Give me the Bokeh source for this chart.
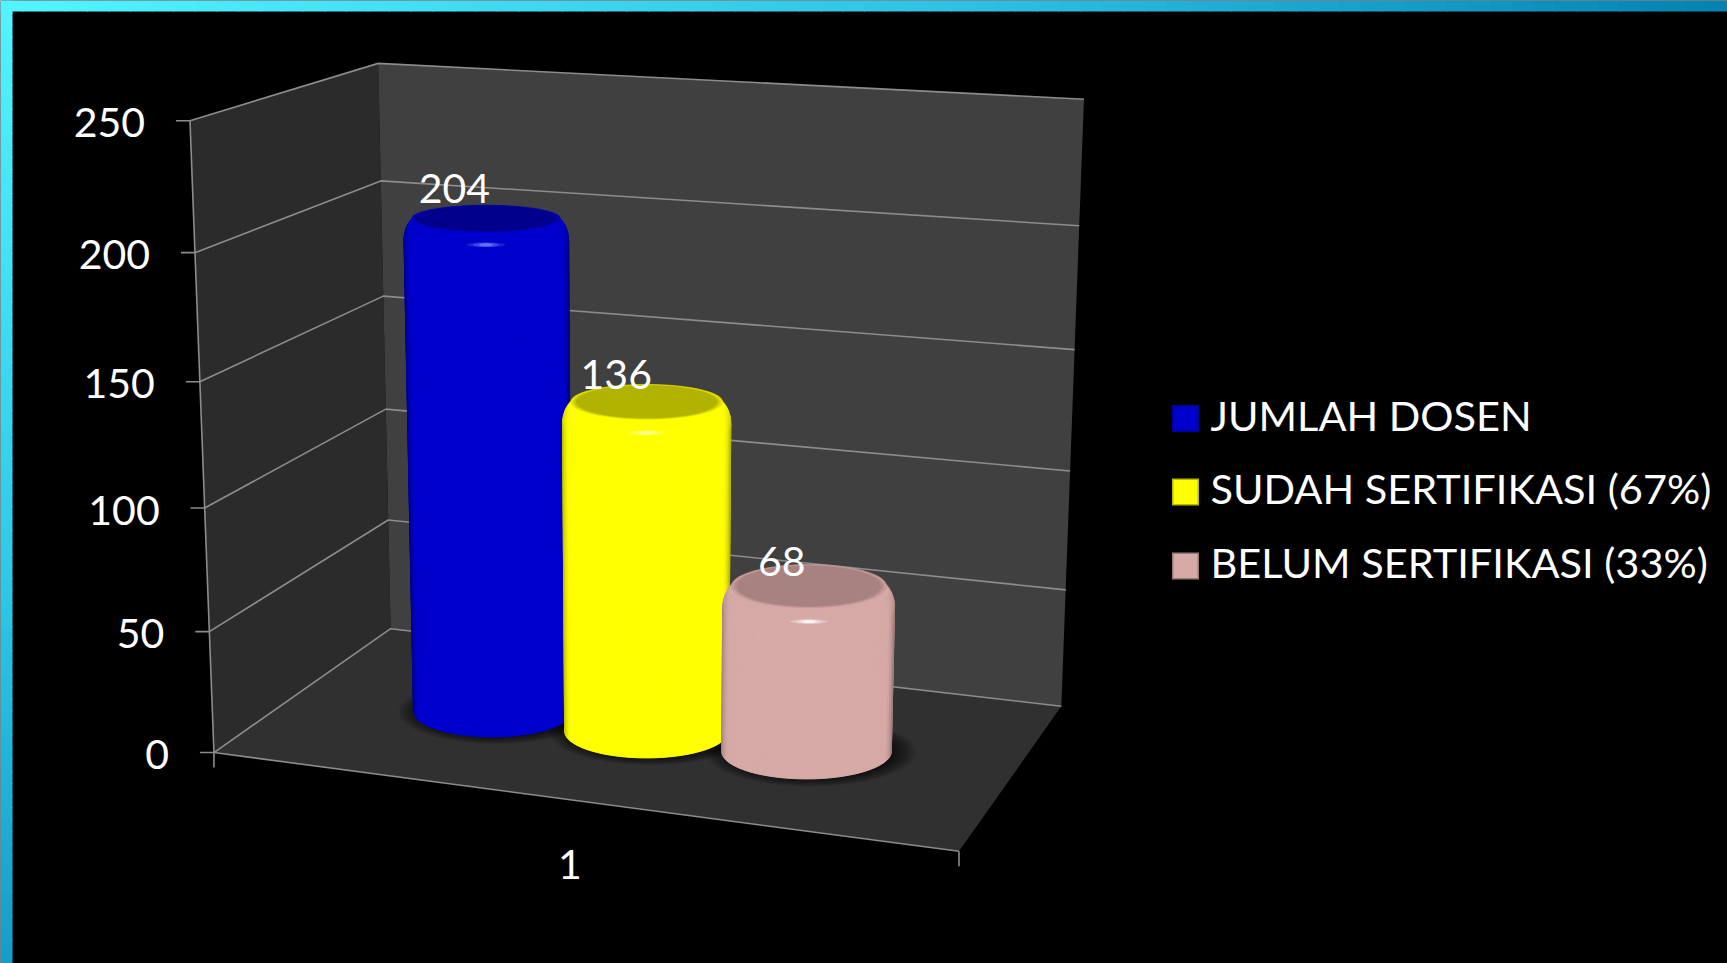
import numpy as np
from bokeh.plotting import figure
from bokeh.models import Range1d
from bokeh.core.properties import value
from bokeh.embed import file_html
from bokeh.resources import INLINE

# ---- data
CATEGORY = ["1"]
SERIES = ["JUMLAH DOSEN", "SUDAH SERTIFIKASI (67%)", "BELUM SERTIFIKASI (33%)"]
VALUES = [204, 136, 68]
Y_TICKS = [0, 50, 100, 150, 200, 250]
COLORS = [(0, 0, 205), (255, 255, 0), (214, 170, 167)]
TOP_COLORS = [(0, 0, 140), (178, 178, 0), (168, 130, 128)]
EDGE_F = [0.62, 0.72, 0.74]
HILITE = [(120, 130, 255), (255, 255, 170), (255, 255, 255)]

# ---- layout: camera anchors (world X, value, world Z) -> page pixel
ANCHORS = [
    ((0, 0, 0), (213.7, 752.7)), ((0, 100, 0), (204.3, 507)), ((0, 200, 0), (194.5, 252)), ((0, 250, 0), (189.5, 120)),
    ((0, 0, 1), (390, 628)), ((0, 100, 1), (385, 408.6)), ((0, 200, 1), (380, 180.7)), ((0, 250, 1), (378, 63)),
    ((1, 0, 1), (1061, 705)), ((1, 100, 1), (1070, 471)), ((1, 200, 1), (1079, 226)), ((1, 250, 1), (1083, 98)),
    ((1, 0, 0), (958, 851)),
]
BASE_PX = [(492, 710), (646, 730), (806, 750)]
RX, RZ = 0.116, 0.20
BEVEL, INSET = 9.0, 0.16
LABEL_OFF = [(-64, -15), (-59, -8), (-52, -1)]

A = []
for (X, Y, Z), (u, v) in ANCHORS:
    y = Y / 250
    A.append([X, y, Z, 1, 0, 0, 0, 0, -u * X, -u * y, -u * Z, -u])
    A.append([0, 0, 0, 0, X, y, Z, 1, -v * X, -v * y, -v * Z, -v])
CAM = np.linalg.svd(np.array(A, float))[2][-1].reshape(3, 4)


def proj(X, Y, Z):
    X, Y, Z = np.broadcast_arrays(np.asarray(X, float), np.asarray(Y, float), np.asarray(Z, float))
    w = np.stack([X, Y / 250, Z, np.ones_like(X)])
    h = CAM @ w.reshape(4, -1)
    return (h[0] / h[2]).reshape(X.shape), (h[1] / h[2]).reshape(X.shape)


FLOOR_INV = np.linalg.inv(CAM[:, [0, 2, 3]])


def floor_xz(u, v):
    h = FLOOR_INV @ np.array([u, v, 1.0])
    return h[0] / h[2], h[1] / h[2]


def hex_c(c, f=1.0):
    return "#%02x%02x%02x" % tuple(int(min(255, max(0, round(a * f)))) for a in c)


def hull(xs, ys):
    pts = sorted(set(zip(np.round(xs, 3).tolist(), np.round(ys, 3).tolist())))
    def half(ps):
        out = []
        for q in ps:
            while len(out) > 1 and (out[-1][0] - out[-2][0]) * (q[1] - out[-2][1]) - (out[-1][1] - out[-2][1]) * (q[0] - out[-2][0]) <= 0:
                out.pop()
            out.append(q)
        return out[:-1]
    h = half(pts) + half(pts[::-1])
    return [a for a, _ in h], [b for _, b in h]


p = figure(width=1727, height=963, x_range=Range1d(0, 1727), y_range=Range1d(963, 0),
           toolbar_location=None, output_backend="svg", x_axis_type=None, y_axis_type=None,
           background_fill_color="#000000", border_fill_color="#000000", outline_line_color=None,
           min_border=0)
p.grid.visible = False

# ---- slide frame
def lerp(stops, t):
    for (t0, c0), (t1, c1) in zip(stops, stops[1:]):
        if t <= t1:
            k = (t - t0) / (t1 - t0)
            return tuple(a + (b - a) * k for a, b in zip(c0, c1))
    return stops[-1][1]

TOP_STOPS = [(0, (82, 244, 255)), (0.58, (44, 190, 226)), (1, (3, 128, 176))]
LEFT_STOPS = [(0, (82, 244, 255)), (0.6, (45, 200, 232)), (1, (20, 156, 202))]
n = 80
ex = np.linspace(0, 1727, n + 1)
p.quad(left=ex[:-1], right=ex[1:] + 1, top=0, bottom=11,
       fill_color=[hex_c(lerp(TOP_STOPS, i / n)) for i in range(n)], line_color=None)
ey = np.linspace(0, 963, n + 1)
p.quad(left=0, right=12, top=ey[:-1], bottom=ey[1:] + 1,
       fill_color=[hex_c(lerp(LEFT_STOPS, i / n)) for i in range(n)], line_color=None)

# ---- walls and floor
def quad3d(c):
    a = np.array(c, float)
    return proj(a[:, 0], a[:, 1], a[:, 2])

ymax = Y_TICKS[-1]
wx, wy, wc = [], [], []
for corners, col in [
    ([(0, 0, 0), (0, ymax, 0), (0, ymax, 1), (0, 0, 1)], "#2b2b2b"),
    ([(0, 0, 1), (0, ymax, 1), (1, ymax, 1), (1, 0, 1)], "#404040"),
    ([(0, 0, 0), (0, 0, 1), (1, 0, 1), (1, 0, 0)], "#303030"),
]:
    a, b = quad3d(corners)
    wx.append(a.tolist()); wy.append(b.tolist()); wc.append(col)
p.patches(wx, wy, fill_color=wc, line_color=None)

GRID = "#8c8c8c"
for t in Y_TICKS:
    a, b = quad3d([(0, t, 0), (0, t, 1), (1, t, 1)])
    p.line(a, b, line_color=GRID, line_width=1.6)
    p.line([a[0] - 14, a[0]], [b[0], b[0]], line_color=GRID, line_width=1.6)
a, b = quad3d([(0, 0, 0), (0, ymax, 0)])
p.line(a, b, line_color=GRID, line_width=1.6)
a, b = quad3d([(0, 0, 0), (1, 0, 0)])
p.line(a, b, line_color=GRID, line_width=1.6)
for X in (0, 1):
    a, b = proj(X, 0, 0)
    p.line([float(a), float(a)], [float(b), float(b) + 15], line_color=GRID, line_width=1.6)


def footprint(cx, cz):
    """Maps (cos, sin) of a base circle to world offsets so that it looks upright on the page."""
    e = 1e-3
    ux, vx = [(q1 - q0) / (2 * e) for q1, q0 in zip(proj(cx + e, 0, cz), proj(cx - e, 0, cz))]
    uz, vz = [(q1 - q0) / (2 * e) for q1, q0 in zip(proj(cx, 0, cz + e), proj(cx, 0, cz - e))]
    J = np.array([[float(ux), float(uz)], [float(vx), float(vz)]])
    return np.linalg.inv(J) @ np.diag([RX * float(ux), RZ * float(vz)])


# ---- soft shadows
TH = np.linspace(0, 2 * np.pi, 73)
for (bu, bv) in BASE_PX:
    cx, cz = floor_xz(bu, bv)
    M = footprint(cx, cz)
    xs, ys = [], []
    for k in range(16):
        s = 1.24 - k * 0.02
        c, d = np.cos(TH) * s + 0.05, np.sin(TH) * s - 0.02
        a, b = proj(cx + M[0, 0] * c + M[0, 1] * d, 0, cz + M[1, 0] * c + M[1, 1] * d)
        xs.append(a.tolist()); ys.append(b.tolist())
    p.patches(xs, ys, fill_color="#000000", fill_alpha=0.055, line_color=None)


# ---- cylinders
def ring(cx, cz, M, r, y, th):
    c, d = r * np.cos(th), r * np.sin(th)
    return proj(cx + M[0, 0] * c + M[0, 1] * d, y, cz + M[1, 0] * c + M[1, 1] * d)


for i, v in enumerate(VALUES):
    cx, cz = floor_xz(*BASE_PX[i])
    M = footprint(cx, cz)
    col, top, ef = COLORS[i], TOP_COLORS[i], EDGE_F[i]
    xs, ys, cs = [], [], []
    rings = [(1.0, 0.0)]
    rings.append((1.0, v - BEVEL))
    for ph in np.linspace(0, np.pi / 2, 9)[1:]:
        rings.append((1 - INSET * (1 - np.cos(ph)), v - BEVEL + BEVEL * np.sin(ph)))
    # silhouette
    hx, hy = [], []
    for r, y in rings:
        a, b = ring(cx, cz, M, r, y, TH)
        hx += a.tolist(); hy += b.tolist()
    hx, hy = hull(hx, hy)
    xs.append(hx); ys.append(hy); cs.append(hex_c(col, 0.95))
    # front surface strips, shaded by facing
    ths = np.linspace(np.pi, 2 * np.pi, 61)
    for k in range(len(rings) - 1):
        r0, y0 = rings[k]; r1, y1 = rings[k + 1]
        for j in range(60):
            tt = ths[j:j + 2]
            a0, b0 = ring(cx, cz, M, r0, y0, tt)
            a1, b1 = ring(cx, cz, M, r1, y1, tt)
            t = abs(np.cos(tt.mean()))
            # the dark side edge fades out as the shoulder turns towards the top
            fade = 1.0 if k == 0 else max(0.0, 1 - k / 6)
            f = 1 - (1 - ef) * fade * max(0, (t - 0.9) / 0.1) ** 2
            xs.append([a0[0], a0[1], a1[1], a1[0]])
            ys.append([b0[0], b0[1], b1[1], b1[0]])
            cs.append(hex_c(col, f))
    # flat top with a soft rim
    for r, mix in [(0.90, 0.35), (0.865, 0.7), (0.835, 1.0)]:
        a, b = ring(cx, cz, M, r, v, TH)
        xs.append(a.tolist()); ys.append(b.tolist())
        cs.append(hex_c(tuple(c0 + (c1 - c0) * mix for c0, c1 in zip(col, top))))
    p.patches(xs, ys, fill_color=cs, line_color=cs, line_width=0.6)
    # specular glint on the front shoulder
    gx, gy = ring(cx, cz, M, 1.0, v - BEVEL * 0.5, np.array(3 * np.pi / 2))
    for w, h, al in [(38, 5, 0.25), (26, 4, 0.4), (14, 3, 0.7)]:
        p.ellipse([float(gx)], [float(gy)], width=w, height=h, fill_color=hex_c(HILITE[i]),
                  fill_alpha=al, line_color=None)

# ---- text
FONT = value("Lato")
tx, ty = proj(0, np.array(Y_TICKS, float), 0)
p.text(tx - 45, ty + 2, text=[str(t) for t in Y_TICKS], text_color="#ffffff", text_font=FONT,
       text_font_size="41px", text_align="right", text_baseline="middle")

lx, ly, lt = [], [], []
for i, v in enumerate(VALUES):
    cx, cz = floor_xz(*BASE_PX[i])
    a, b = proj(cx, v, cz + RZ)
    lx.append(float(a) + LABEL_OFF[i][0]); ly.append(float(b) + LABEL_OFF[i][1]); lt.append(str(v))
p.text(lx, ly, text=lt, text_color="#ffffff", text_font=FONT, text_font_size="41px",
       text_align="center", text_baseline="middle")

a, b = proj(0.5, 0, 0)
p.text([float(a) - 1], [float(b) + 65], text=CATEGORY, text_color="#ffffff", text_font=FONT,
       text_font_size="41px", text_align="center", text_baseline="middle")

# ---- legend
LEG_X, LEG_SIZE, LEG_Y = 1185, 27, [418, 491.5, 565.5]
p.rect([LEG_X] * 3, LEG_Y, width=LEG_SIZE, height=LEG_SIZE,
       fill_color=[hex_c(c, 0.72) for c in COLORS], line_color=None)
p.rect([LEG_X] * 3, LEG_Y, width=LEG_SIZE - 3, height=LEG_SIZE - 3,
       fill_color=[hex_c(c) for c in COLORS], line_color=None)
p.text([1210] * 3, [y - 4 for y in LEG_Y], text=SERIES, text_color="#ffffff", text_font=FONT,
       text_font_size="41.5px", text_align="left", text_baseline="middle")

open("out.html", "w").write(file_html(p, INLINE))
